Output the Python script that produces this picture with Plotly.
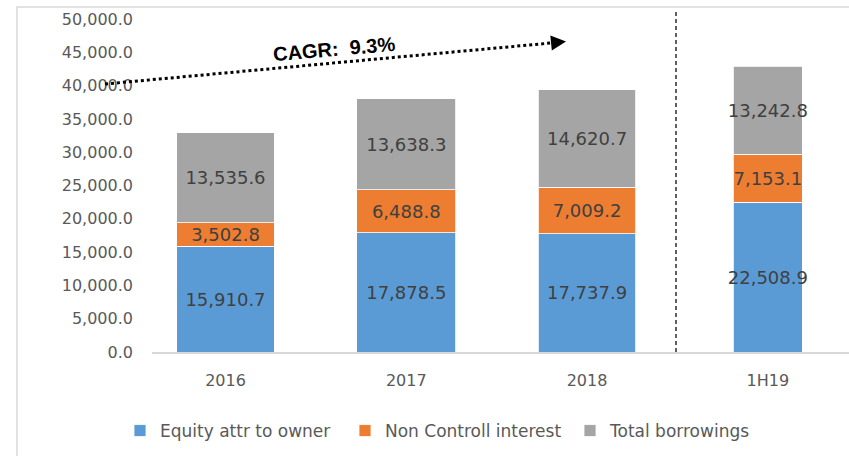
import plotly.graph_objects as go

categories = ["2016", "2017", "2018", "1H19"]
equity_attr = [15910.7, 17878.5, 17737.9, 22508.9]
non_controll = [3502.8, 6488.8, 7009.2, 7153.1]
total_borrow = [13535.6, 13638.3, 14620.7, 13242.8]
series_names = ["Equity attr to owner", "Non Controll interest", "Total borrowings"]
cagr_text = "CAGR:  9.3%"

colors = ["#5B9BD5", "#ED7D31", "#A5A5A5"]
bar_widths = [0.54, 0.55, 0.54, 0.38]

# pixel layout helpers (plot area 152..849 x, 19..352 y)
L, R, T, B = 152, 849, 19, 352
def px(x):
    return (x - L) / (R - L)
def py(y):
    return (B - y) / (B - T)

fig = go.Figure()
for name, vals, col in zip(series_names, [equity_attr, non_controll, total_borrow], colors):
    fig.add_trace(go.Bar(
        x=categories, y=vals, name=name, width=bar_widths,
        marker=dict(color=col, line=dict(color="white", width=0.8)),
        texttemplate="%{y:,.1f}", textposition="inside", insidetextanchor="middle",
        textangle=0,
        textfont=dict(family="DejaVu Sans", size=18, color="#404040"),
        constraintext="none",
    ))

fig.update_layout(
    barmode="stack",
    width=849, height=456,
    margin=dict(l=L, r=849 - R, t=T, b=456 - B),
    paper_bgcolor="white", plot_bgcolor="white",
    uniformtext=dict(minsize=18, mode="show"),
    font=dict(family="DejaVu Sans", color="#595959"),
    showlegend=True,
    legend=dict(orientation="h", x=px(120), xanchor="left", y=py(431), yanchor="middle",
                font=dict(family="DejaVu Sans", size=17, color="#595959"),
                entrywidth=180, traceorder="normal"),
    xaxis=dict(type="category", range=[-0.4065, 3.449], showgrid=False, zeroline=False,
               showline=True, linecolor="#d9d9d9", linewidth=1.5,
               tickfont=dict(family="DejaVu Sans", size=16, color="#595959"),
               ticks="", ticklabelstandoff=13),
    yaxis=dict(range=[0, 50000], dtick=5000, tickformat=",.1f", showgrid=False,
               zeroline=False, showline=False, ticks="",
               tickfont=dict(family="DejaVu Sans", size=16, color="#595959"),
               ticklabelstandoff=18),
    shapes=[
        dict(type="rect", xref="paper", yref="paper", x0=px(17), x1=px(852), y0=py(470), y1=py(7),
             line=dict(color="#d9d9d9", width=1.5), fillcolor="rgba(0,0,0,0)", layer="below"),
        dict(type="line", xref="paper", yref="paper", x0=px(676), x1=px(676), y0=0, y1=py(9),
             line=dict(color="black", width=1.25, dash="4px,3px")),
        dict(type="line", xref="paper", yref="paper", x0=px(105), y0=py(84), x1=px(551), y1=py(43),
             line=dict(color="black", width=3, dash="dot")),
    ],
    annotations=[
        dict(xref="paper", yref="paper", x=px(334), y=py(49), text="<b>" + cagr_text + "</b>",
             xanchor="center", yanchor="middle",
             showarrow=False, textangle=-5,
             font=dict(family="Liberation Sans", size=20, color="black")),
        dict(xref="paper", yref="paper", x=px(566), y=py(41.5), text="", showarrow=True,
             ax=-10, ay=1, arrowhead=2, arrowsize=1.5, arrowwidth=2, arrowcolor="black"),
    ],
)

fig.write_html("out.html", config={"displayModeBar": False},
               post_script="document.body.style.margin='0';document.body.style.overflow='hidden';")
